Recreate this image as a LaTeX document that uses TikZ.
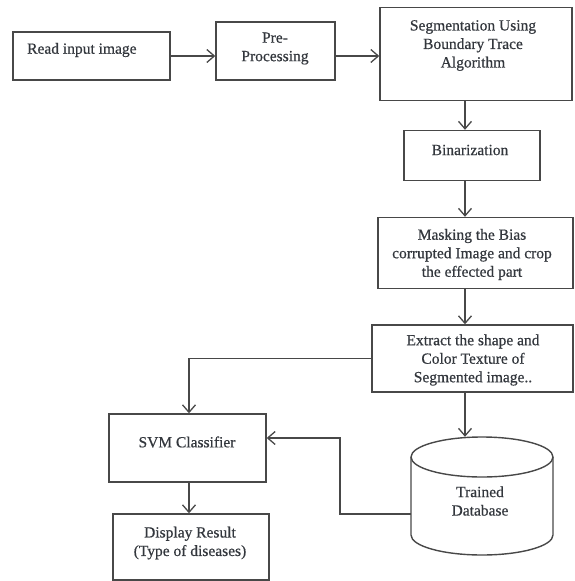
\documentclass[tikz,border=0pt]{standalone}
\usepackage{fontspec}
\setmainfont{Liberation Serif}[FakeBold=0.6]
\usetikzlibrary{arrows.meta}
\definecolor{linec}{HTML}{484848}
\definecolor{textc}{HTML}{33373D}
\tikzset{
  box/.style={draw=linec, line width=1.4pt, rectangle, inner sep=0pt},
  txt/.style={text=textc, font=\fontsize{15.5}{18.5}\selectfont, align=center, inner sep=0pt},
  arr/.style={draw=linec, line width=1.4pt, -{Straight Barb[length=7.5pt,width=13pt,line width=1.3pt]}},
  conn/.style={draw=linec, line width=1.4pt}
}
\begin{document}
\begin{tikzpicture}[x=1pt,y=-1pt]
\useasboundingbox (0,0) rectangle (575,581);
% boxes
\node[box, minimum width=157pt, minimum height=48pt] (read) at (91.5,56) {};
\node[txt, anchor=west] (readt) at (27,50) {Read input image};
\node[box, minimum width=119pt, minimum height=58pt] (pre) at (275.5,51) {};
\node[txt] (pret) at (275,48.5) {Pre-\\Processing};
\node[box, minimum width=192pt, minimum height=93pt] (seg) at (476,54) {};
\node[txt] (segt) at (473,45.5) {Segmentation Using\\Boundary Trace\\Algorithm};
\node[box, minimum width=136pt, minimum height=50pt] (bin) at (472,155.5) {};
\node[txt] (bint) at (470,150) {Binarization};
\node[box, minimum width=195pt, minimum height=71pt] (mask) at (475.5,253) {};
\node[txt] (maskt) at (472,254.5) {Masking the Bias\\corrupted Image and crop\\the effected part};
\node[box, minimum width=201pt, minimum height=67pt] (ext) at (472.5,358.5) {};
\node[txt] (extt) at (473,360) {Extract the shape and\\Color Texture of\\Segmented image..};
\node[box, minimum width=157pt, minimum height=68pt] (svm) at (187.5,448) {};
\node[txt] (svmt) at (187,442) {SVM Classifier};
\node[box, minimum width=156pt, minimum height=66pt] (disp) at (191,547) {};
\node[txt] (dispt) at (190,543) {Display Result\\(Type of diseases)};
% cylinder
\node[minimum width=142pt, minimum height=118pt, inner sep=0pt] (db) at (482,496) {};
\draw[conn] (482,457) ellipse [x radius=71pt, y radius=20pt];
\draw[conn] (411,457) -- (411,535) arc[start angle=180, end angle=360, x radius=71pt, y radius=20pt] -- (553,457);
\node[txt] (dbt) at (480,501) {Trained\\Database};
% connectors
\coordinate (vx) at (465,0);
\coordinate (sx) at (189,0);
\coordinate (fb) at (340,0);
\draw[arr] (read.east) -- (read.east -| pre.west);
\draw[arr] (pre.east |- read.east) -- (seg.west |- read.east);
\draw[arr] (seg.south -| vx) -- (bin.north -| vx);
\draw[arr] (bin.south -| vx) -- (mask.north -| vx);
\draw[arr] (mask.south -| vx) -- (ext.north -| vx);
\draw[arr] (ext.south -| vx) -- (db.north -| vx);
\draw[arr] (ext.west) -- (ext.west -| sx) -- (svm.north -| sx);
\draw[arr] (svm.south -| sx) -- (disp.north -| sx);
\draw[arr] (db.west |- 0,514) -- (fb |- 0,514) -- (fb |- 0,438) -- (svm.east |- 0,438);
\end{tikzpicture}
\end{document}
